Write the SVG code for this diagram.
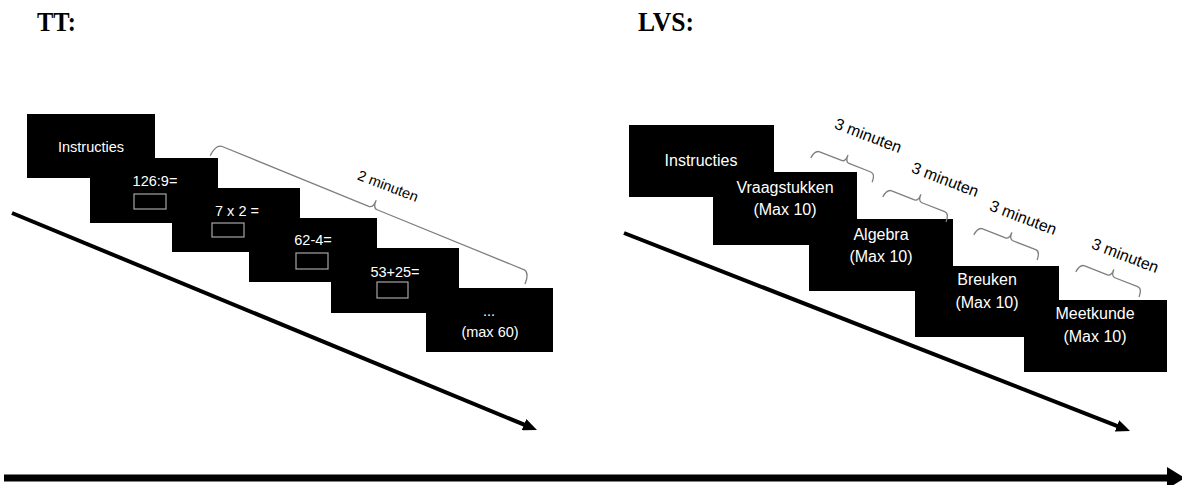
<svg xmlns="http://www.w3.org/2000/svg" width="1182" height="485" viewBox="0 0 1182 485">
<style>
  .box { fill: #000000; }
  .lt { font-family: "Liberation Sans", Arial, sans-serif; font-size: 14.5px; fill: #ffffff; text-anchor: middle; }
  .rt { font-family: "Liberation Sans", Arial, sans-serif; font-size: 16px; fill: #ffffff; text-anchor: middle; }
  .inp { fill: none; stroke: #a6a6a6; stroke-width: 1.2; }
  .brace { fill: none; stroke: #7f7f7f; stroke-width: 1.3; stroke-linejoin: round; }
  .lbl { font-family: "Liberation Sans", Arial, sans-serif; fill: #000000; text-anchor: middle; }
  .title { font-family: "Liberation Serif", "Times New Roman", serif; font-weight: bold; font-size: 27px; fill: #000000; }
  .axis { stroke: #000000; fill: none; }
</style>
<defs>
  <marker id="head" markerUnits="userSpaceOnUse" viewBox="0 0 14 12" refX="6" refY="6" markerWidth="14" markerHeight="12" orient="auto">
    <path d="M0,0 L14,6 L0,12 Z" fill="#000000"/>
  </marker>
</defs>

<g id="titles">
  <text class="title" x="37" y="31" textLength="39" lengthAdjust="spacingAndGlyphs">TT:</text>
  <text class="title" x="638" y="31" textLength="56" lengthAdjust="spacingAndGlyphs">LVS:</text>
</g>

<g id="connectors">
  <line class="axis" x1="12" y1="213" x2="529.6" y2="426.9" stroke-width="4" marker-end="url(#head)"/>
  <line class="axis" x1="624" y1="233" x2="1122.6" y2="428.1" stroke-width="4" marker-end="url(#head)"/>
  <line class="axis" x1="4" y1="478" x2="1168" y2="478" stroke-width="7"/>
  <polygon points="1167,467 1185,478 1167,489" fill="#000000"/>
</g>

<!-- TT side -->
<g id="tt-instructies">
  <rect class="box" x="27" y="114" width="128" height="64"/>
  <text class="lt" x="91" y="152">Instructies</text>
</g>
<g id="tt-q1">
  <rect class="box" x="90" y="158" width="128" height="65"/>
  <text class="lt" x="155" y="186">126:9=</text>
  <rect class="inp" x="134" y="194" width="32" height="15"/>
</g>
<g id="tt-q2">
  <rect class="box" x="172" y="188" width="128" height="64"/>
  <text class="lt" x="237" y="216">7 x 2 =</text>
  <rect class="inp" x="212" y="223" width="32" height="14"/>
</g>
<g id="tt-q3">
  <rect class="box" x="249" y="218" width="128" height="64"/>
  <text class="lt" x="313" y="245">62-4=</text>
  <rect class="inp" x="296" y="253" width="32" height="16"/>
</g>
<g id="tt-q4">
  <rect class="box" x="331" y="248" width="128" height="65"/>
  <text class="lt" x="395" y="277">53+25=</text>
  <rect class="inp" x="377" y="282" width="31" height="16"/>
</g>
<g id="tt-q5">
  <rect class="box" x="426" y="288" width="127" height="64"/>
  <text class="lt" x="489" y="316">...</text>
  <text class="lt" x="490" y="337">(max 60)</text>
</g>
<g id="tt-brace">
  <g transform="translate(216,144) rotate(22.2)">
    <path class="brace" d="M-1,13 Q0,1 6,0 L165,0 Q169.5,0 169.5,-8 Q169.5,0 174,0 L333,0 Q339,1 339,13"/>
  </g>
  <text class="lbl" font-size="14.5" x="388" y="191" transform="rotate(21 388 186)">2 minuten</text>
</g>

<!-- LVS side -->
<g id="lvs-instructies">
  <rect class="box" x="629" y="125" width="145" height="72"/>
  <text class="rt" x="701" y="166">Instructies</text>
</g>
<g id="lvs-vraagstukken">
  <rect class="box" x="713" y="172" width="144" height="73"/>
  <text class="rt" x="785" y="193">Vraagstukken</text>
  <text class="rt" x="785" y="215">(Max 10)</text>
</g>
<g id="lvs-algebra">
  <rect class="box" x="809" y="219" width="144" height="72"/>
  <text class="rt" x="881" y="240">Algebra</text>
  <text class="rt" x="881" y="262">(Max 10)</text>
</g>
<g id="lvs-breuken">
  <rect class="box" x="915" y="266" width="144" height="71"/>
  <text class="rt" x="987" y="285">Breuken</text>
  <text class="rt" x="987" y="308">(Max 10)</text>
</g>
<g id="lvs-meetkunde">
  <rect class="box" x="1024" y="300" width="143" height="72"/>
  <text class="rt" x="1095" y="319">Meetkunde</text>
  <text class="rt" x="1095" y="342">(Max 10)</text>
</g>

<g id="lvs-brace1">
  <g transform="translate(815,150) rotate(21.5)">
    <path class="brace" d="M-1,9 Q0,0 5,0 L28.5,0 Q32.5,0 32.5,-7 Q32.5,0 36.5,0 L60,0 Q65,0 65,9"/>
  </g>
  <text class="lbl" font-size="16" x="868" y="141" transform="rotate(21 868 136)">3 minuten</text>
</g>
<g id="lvs-brace2">
  <g transform="translate(887,189) rotate(21.5)">
    <path class="brace" d="M-1,9 Q0,0 5,0 L29.5,0 Q33.5,0 33.5,-7 Q33.5,0 37.5,0 L62,0 Q67,0 67,9"/>
  </g>
  <text class="lbl" font-size="16" x="945" y="185" transform="rotate(21 945 180)">3 minuten</text>
</g>
<g id="lvs-brace3">
  <g transform="translate(978,227) rotate(21.5)">
    <path class="brace" d="M-1,9 Q0,0 5,0 L29.5,0 Q33.5,0 33.5,-7 Q33.5,0 37.5,0 L62,0 Q67,0 67,9"/>
  </g>
  <text class="lbl" font-size="16" x="1023" y="223" transform="rotate(21 1023 218)">3 minuten</text>
</g>
<g id="lvs-brace4">
  <g transform="translate(1080,264) rotate(21.5)">
    <path class="brace" d="M-1,9 Q0,0 5,0 L29.5,0 Q33.5,0 33.5,-7 Q33.5,0 37.5,0 L62,0 Q67,0 67,9"/>
  </g>
  <text class="lbl" font-size="16" x="1125" y="261" transform="rotate(21 1125 256)">3 minuten</text>
</g>
</svg>
